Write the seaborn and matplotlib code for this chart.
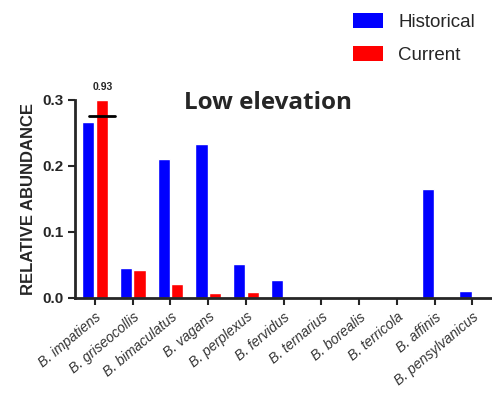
import matplotlib
matplotlib.use("Agg")
import matplotlib.pyplot as plt
from matplotlib.patches import Patch
import pandas as pd
import seaborn as sns

# species on x axis
species = ["B. impatiens", "B. griseocollis", "B. bimaculatus", "B. vagans",
           "B. perplexus", "B. fervidus", "B. ternarius", "B. borealis",
           "B. terricola", "B. affinis", "B. pensylvanicus"]
# relative abundance (current impatiens is 0.93, drawn clipped at the axis top)
historical = [0.266, 0.046, 0.210, 0.234, 0.051, 0.027, 0.0, 0.0, 0.0, 0.165, 0.011]
current = [0.30, 0.042, 0.021, 0.007, 0.009, 0.0, 0.001, 0.0, 0.0, 0.0, 0.0]
series = ["Historical", "Current"]
colors = ["#0000ff", "#ff0000"]
impatiens_label = "0.93"

df = pd.DataFrame({
    "species": species * 2,
    "abundance": historical + current,
    "period": [series[0]] * len(species) + [series[1]] * len(species),
})

sns.set_style("ticks")
plt.rcParams["font.family"] = ["Liberation Sans", "DejaVu Sans"]

fig = plt.figure(figsize=(4.92, 3.98), dpi=100)
ax = fig.add_axes([0.1524, 0.2513, 0.846, 0.4975])

sns.barplot(data=df, x="species", y="abundance", hue="period", order=species,
            hue_order=series, palette=colors, width=0.72, gap=0.1,
            saturation=1, legend=False, ax=ax)

ax.set_xlim(-0.53, 10.5)
ax.set_ylim(0, 0.3)
ax.set_yticks([0.0, 0.1, 0.2, 0.3])
ax.set_yticklabels(["0.0", "0.1", "0.2", "0.3"], fontweight="bold", fontsize=11)
ax.set_xticks(range(len(species)))
ax.set_xticklabels(species, rotation=40, ha="right", rotation_mode="anchor",
                   fontstyle="italic", fontsize=10, color="#333333")
ax.set_xlabel("")
ax.set_ylabel("RELATIVE ABUNDANCE", fontweight="bold", fontsize=12, labelpad=4)

for side in ["top", "right"]:
    ax.spines[side].set_visible(False)
for side in ["left", "bottom"]:
    ax.spines[side].set_linewidth(2)
ax.tick_params(axis="both", direction="out", length=5, width=1.5)

# broken bar marker and true value
ax.plot([-0.17, 0.54], [0.276, 0.276], color="black", lw=2, clip_on=False)
ax.text(0.2, 0.32, impatiens_label, ha="center", va="center",
        fontsize=7.5, fontweight="bold", clip_on=False)

ax.text(0.464, 0.985, "Low elevation", transform=ax.transAxes, ha="center",
        va="center", fontsize=17.5, fontweight="bold", family="Open Sans")

handles = [Patch(facecolor=c, edgecolor="none") for c in colors]
fig.legend(handles, series, loc="upper left", bbox_to_anchor=(0.699, 0.99),
           frameon=False, fontsize=13.5, borderpad=0, handlelength=1.6,
           handleheight=0.85, labelspacing=0.8, handletextpad=0.8)

fig.savefig("out.png", dpi=100)
